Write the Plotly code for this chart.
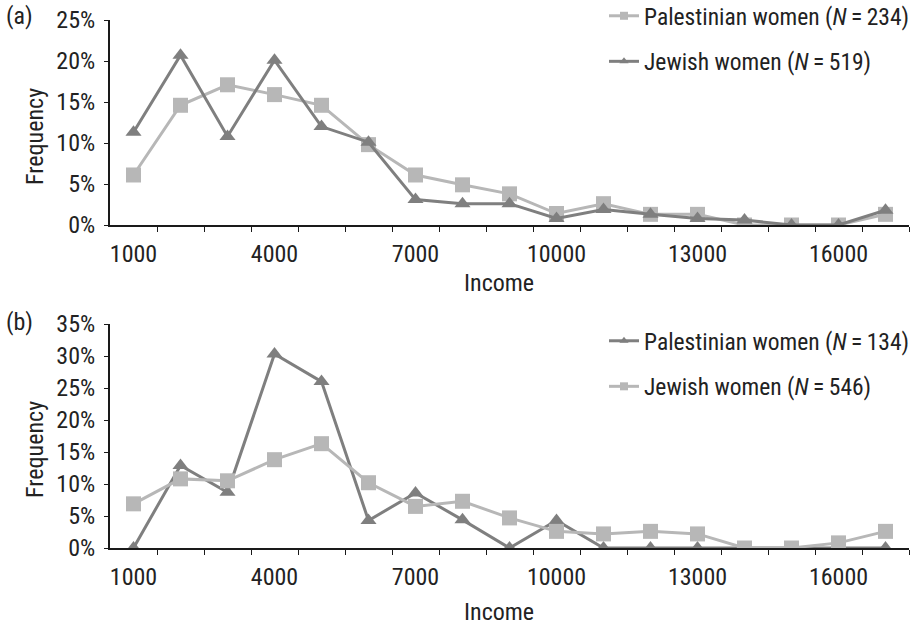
import plotly.graph_objects as go

# Monthly income categories (NIS) shared by both panels
income = [1000, 2000, 3000, 4000, 5000, 6000, 7000, 8000, 9000,
          10000, 11000, 12000, 13000, 14000, 15000, 16000, 17000]
income_labels = [1000, 4000, 7000, 10000, 13000, 16000]

# Panel (a): frequency (%)
a_palestinian = [6.1, 14.6, 17.1, 15.9, 14.6, 9.8, 6.1, 4.9, 3.8,
                 1.4, 2.6, 1.3, 1.3, 0.0, 0.0, 0.0, 1.3]
a_jewish = [11.3, 20.7, 10.8, 20.1, 12.0, 10.1, 3.1, 2.6, 2.6,
            0.8, 1.9, 1.3, 0.8, 0.6, 0.0, 0.0, 1.8]

# Panel (b): frequency (%)
b_palestinian = [0.0, 12.9, 8.7, 30.3, 26.0, 4.3, 8.6, 4.4, 0.0,
                 4.3, 0.0, 0.0, 0.0, 0.0, 0.0, 0.0, 0.0]
b_jewish = [6.9, 10.8, 10.5, 13.8, 16.3, 10.2, 6.5, 7.3, 4.7,
            2.6, 2.2, 2.6, 2.2, 0.0, 0.0, 0.8, 2.6]

a_names = ["Palestinian women (<i>N</i>\u2009=\u2009234)", "Jewish women (<i>N</i>\u2009=\u2009519)"]
b_names = ["Palestinian women (<i>N</i>\u2009=\u2009134)", "Jewish women (<i>N</i>\u2009=\u2009546)"]

LIGHT = "#b7b7b7"
DARK = "#7f7f7f"
FONT = "Liberation Sans Narrow, Arial Narrow, Roboto Condensed, Liberation Sans, sans-serif"
FS = 24
LFS = 23.5
TXT = "#222222"

fig = go.Figure()


def add_series(xa, ya, values, name, color, symbol, size, legend):
    # line + markers on the plot
    fig.add_trace(go.Scatter(
        x=income, y=values, mode="lines+markers", xaxis=xa, yaxis=ya,
        line=dict(color=color, width=3),
        marker=dict(color=color, symbol=symbol, size=size),
        showlegend=False, hoverinfo="x+y"))
    # legend entry with a smaller glyph
    fig.add_trace(go.Scatter(
        x=[None], y=[None], mode="lines+markers", xaxis=xa, yaxis=ya,
        line=dict(color=color, width=3),
        marker=dict(color=color, symbol=symbol, size=8),
        name=name, legend=legend, legendgroup=name))


add_series("x", "y", a_palestinian, a_names[0], LIGHT, "square", 15, "legend")
add_series("x", "y", a_jewish, a_names[1], DARK, "triangle-up", 14, "legend")
add_series("x2", "y2", b_palestinian, b_names[0], DARK, "triangle-up", 14, "legend2")
add_series("x2", "y2", b_jewish, b_names[1], LIGHT, "square", 15, "legend2")

boundaries = [c + 500 for c in income]

xcommon = dict(
    range=[500, 17500], showgrid=False, zeroline=False,
    showline=True, linecolor="#1a1a1a", linewidth=2,
    tickvals=income_labels, ticktext=[str(v) for v in income_labels],
    ticks="", ticklabelstandoff=6,
    minor=dict(tickvals=boundaries, ticks="outside", ticklen=5,
               tickcolor="#1a1a1a", tickwidth=1),
    tickfont=dict(family=FONT, size=FS, color=TXT),
)
ycommon = dict(
    showgrid=False, zeroline=False, showline=True, linecolor="#1a1a1a",
    linewidth=2, ticks="outside", ticklen=4, tickcolor="#1a1a1a",
    dtick=5, ticksuffix="%", ticklabelstandoff=4,
    tickfont=dict(family=FONT, size=FS, color=TXT),
)

H = 548.0  # height of the plotting region in px (top margin 0)


def py(p):
    return (H - p) / H


def px(p):
    return (p - 110) / 799.0


fig.update_layout(
    width=916, height=628,
    margin=dict(l=110, r=7, t=0, b=80, autoexpand=False),
    paper_bgcolor="white", plot_bgcolor="white",
    font=dict(family=FONT, size=FS, color=TXT),
    xaxis=dict(domain=[0, 1], anchor="y", **xcommon),
    yaxis=dict(domain=[py(225), py(20)], anchor="x", range=[0, 25], **ycommon),
    xaxis2=dict(domain=[0, 1], anchor="y2", **xcommon),
    yaxis2=dict(domain=[0, py(324)], anchor="x2", range=[0, 35], **ycommon),
    legend=dict(x=px(604), y=py(-6), xanchor="left", yanchor="top",
                bgcolor="rgba(0,0,0,0)", tracegroupgap=12,
                font=dict(family=FONT, size=LFS, color=TXT), itemwidth=30),
    legend2=dict(x=px(604), y=py(319), xanchor="left", yanchor="top",
                 bgcolor="rgba(0,0,0,0)", tracegroupgap=12,
                 font=dict(family=FONT, size=LFS, color=TXT), itemwidth=30),
)

# Panel letters and axis titles
ann = [
    dict(text="(a)", x=px(4), y=py(16), xanchor="left", yanchor="middle"),
    dict(text="(b)", x=px(4), y=py(322), xanchor="left", yanchor="middle"),
    dict(text="Frequency", x=px(35), y=py(137), textangle=-90,
         xanchor="center", yanchor="middle"),
    dict(text="Frequency", x=px(35), y=py(450), textangle=-90,
         xanchor="center", yanchor="middle"),
    dict(text="Income", x=px(499), y=py(283), xanchor="center", yanchor="middle"),
    dict(text="Income", x=px(499), y=py(612), xanchor="center", yanchor="middle"),
]
for a in ann:
    fig.add_annotation(xref="paper", yref="paper", showarrow=False,
                       font=dict(family=FONT, size=FS, color=TXT), **a)

fig.write_html("out.html")
